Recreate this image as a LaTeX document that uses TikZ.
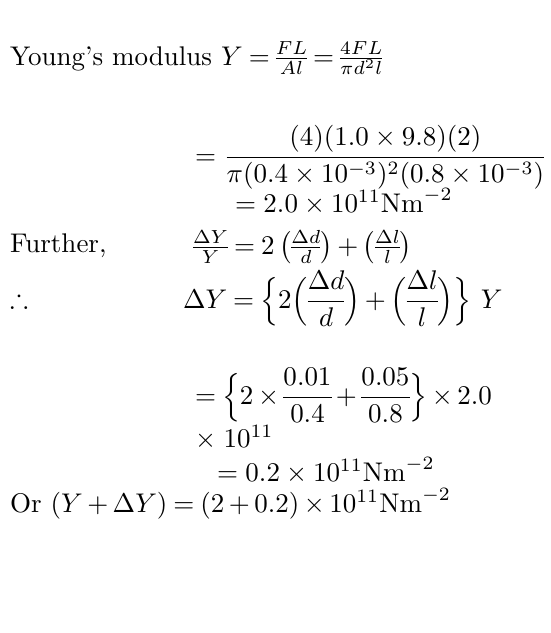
\documentclass[tikz,border=0pt]{standalone}
\usepackage{amsmath}
\usepackage{amssymb}
\usepackage{graphicx}
\newcommand{\bigtxt}[1]{\scalebox{2.7}{#1}}
\newcommand{\tightmath}{\thickmuskip=4mu\relax\medmuskip=3mu\relax\nulldelimiterspace=0pt\relax}
\begin{document}
\begin{tikzpicture}[x=1pt,y=-1pt,
  txt/.style={inner sep=0pt, outer sep=0pt, anchor=base west, font=\fontsize{10}{12}\selectfont}]
\useasboundingbox (0,0) rectangle (550,633);
\node[txt] (l1) at (10,65) {\bigtxt{\tightmath Young's modulus $Y=\tfrac{FL}{Al}=\tfrac{4FL}{\pi d^2 l}$}};
\node[txt] (l2) at (195,164) {\bigtxt{$=\dfrac{(4)(1.0\times 9.8)(2)}{\pi(0.4\times10^{-3})^2(0.8\times10^{-3})}$}};
\node[txt] (l3) at (235,212) {\bigtxt{$=2.0\times10^{11}\mathrm{Nm}^{-2}$}};
\node[txt] (fur) at (10,252) {\bigtxt{Further,}};
\node[txt] (l4) at (193,254) {\bigtxt{\tightmath$\tfrac{\Delta Y}{Y}=2\,\bigl(\tfrac{\Delta d}{d}\bigr)+\bigl(\tfrac{\Delta l}{l}\bigr)$}};
\node[txt] (thf) at (10,307) {\bigtxt{$\therefore$}};
\node[txt] (l5) at (183,308) {\bigtxt{\tightmath$\Delta Y=\Bigl\{2\Bigl(\dfrac{\Delta d}{d}\Bigr)+\Bigl(\dfrac{\Delta l}{l}\Bigr)\Bigr\}\ Y$}};
\node[txt] (l6) at (195,404) {\bigtxt{\tightmath$=\Bigl\{2\times\dfrac{0.01}{0.4}+\dfrac{0.05}{0.8}\Bigr\}\times2.0$}};
\node[txt] (l7) at (195,447) {\bigtxt{$\times\;10^{11}$}};
\node[txt] (l8) at (217,481) {\bigtxt{$=0.2\times10^{11}\mathrm{Nm}^{-2}$}};
\node[txt] (l9) at (10,512) {\bigtxt{\tightmath Or $(Y+\Delta Y)=(2+0.2)\times10^{11}\mathrm{Nm}^{-2}$}};
\end{tikzpicture}
\end{document}
